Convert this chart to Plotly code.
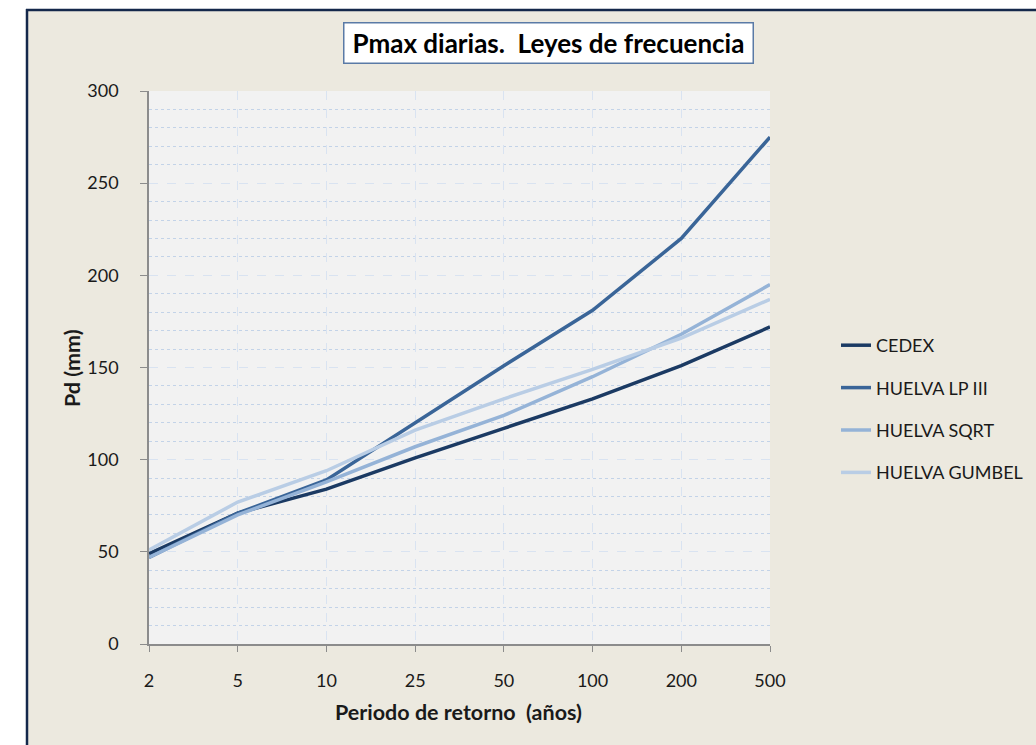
import plotly.graph_objects as go

# Return periods (years) shown as evenly spaced categories
periods = ["2", "5", "10", "25", "50", "100", "200", "500"]

# Maximum daily precipitation Pd (mm) for each frequency law
cedex = [49, 71, 84, 101, 117, 133, 151, 172]
huelva_lp3 = [47, 71, 89, 120, 151, 181, 220, 275]
huelva_sqrt = [47, 70, 88, 107, 124, 145, 168, 195]
huelva_gumbel = [51, 77, 94, 116, 133, 149, 166, 187]

series = [
    ("CEDEX", cedex, "#1B3A63"),
    ("HUELVA LP III", huelva_lp3, "#3A6598"),
    ("HUELVA SQRT", huelva_sqrt, "#95B3D7"),
    ("HUELVA GUMBEL", huelva_gumbel, "#B9CDE5"),
]

W, H = 1036, 745
L, R, T, B = 149, 266, 91, 101
PW, PH = W - L - R, H - T - B


def px(xp):
    return (xp - L) / PW


def py(yp):
    return (H - B - yp) / PH


FONT = "Lato"
TXT = "#1a1a1a"

fig = go.Figure()
for i, (name, vals, color) in enumerate(series):
    fig.add_trace(go.Scatter(
        x=periods, y=vals, name=name, mode="lines",
        line=dict(color=color, width=3.5),
        legendgroup=f"g{i}",
    ))

grid_major = "#D9E3F1"
grid_minor = "#C3D3E8"

fig.update_layout(
    width=W, height=H,
    margin=dict(l=L, r=R, t=T, b=B, autoexpand=False),
    paper_bgcolor="#ECE9DF",
    plot_bgcolor="#F2F2F2",
    font=dict(family=FONT, size=18, color=TXT),
    showlegend=True,
    legend=dict(
        x=px(836), y=py(327), xanchor="left", yanchor="top",
        bgcolor="rgba(0,0,0,0)",
        font=dict(family=FONT, size=18, color=TXT),
        tracegroupgap=16,
        itemwidth=30,
    ),
    xaxis=dict(
        type="category", range=[0, 7],
        showline=True, linecolor="#8C8C8C", linewidth=1.5,
        ticks="outside", ticklen=6, tickcolor="#8C8C8C",
        showgrid=True, gridcolor=grid_major, griddash="dash", gridwidth=1,
        tickfont=dict(family=FONT, size=18, color=TXT),
        ticklabelstandoff=14,
        zeroline=False,
    ),
    yaxis=dict(
        range=[0, 300], dtick=50,
        showline=True, linecolor="#8C8C8C", linewidth=1.5,
        ticks="outside", ticklen=7, tickcolor="#8C8C8C",
        showgrid=True, gridcolor=grid_major, griddash="dash", gridwidth=1,
        minor=dict(dtick=10, showgrid=True, gridcolor=grid_minor,
                   griddash="dot", gridwidth=1, ticks=""),
        tickfont=dict(family=FONT, size=18, color=TXT),
        ticklabelstandoff=18,
        zeroline=False,
    ),
)

# White margin strips and the dark frame of the chart area
fig.add_shape(type="rect", xref="paper", yref="paper",
              x0=px(-5), x1=px(W + 5), y0=py(9), y1=py(-5),
              fillcolor="white", line_width=0, layer="above")
fig.add_shape(type="rect", xref="paper", yref="paper",
              x0=px(-5), x1=px(26), y0=py(H + 5), y1=py(-5),
              fillcolor="white", line_width=0, layer="above")
fig.add_shape(type="line", xref="paper", yref="paper",
              x0=px(26), x1=px(W + 5), y0=py(10), y1=py(10),
              line=dict(color="#14284B", width=2.5), layer="above")
fig.add_shape(type="line", xref="paper", yref="paper",
              x0=px(27), x1=px(27), y0=py(9), y1=py(H + 5),
              line=dict(color="#14284B", width=2.5), layer="above")

# Boxed chart title
fig.add_annotation(
    text="<b>Pmax diarias.  Leyes de frecuencia</b>",
    xref="paper", yref="paper", x=px(548.5), y=py(43.5),
    xanchor="center", yanchor="middle", showarrow=False,
    font=dict(family=FONT, size=26, color="black"),
    bgcolor="white", bordercolor="#5A7AA6", borderwidth=1.5,
    width=404, height=35, borderpad=2,
)

# Axis titles
fig.add_annotation(
    text="<b>Periodo de retorno  (años)</b>",
    xref="paper", yref="paper", x=px(458), y=py(712),
    xanchor="center", yanchor="middle", showarrow=False,
    font=dict(family=FONT, size=21.5, color=TXT),
)
fig.add_annotation(
    text="<b>Pd (mm)</b>",
    xref="paper", yref="paper", x=px(72), y=py(368),
    xanchor="center", yanchor="middle", showarrow=False, textangle=-90,
    font=dict(family=FONT, size=21.5, color=TXT),
)

fig.write_html("out.html")
